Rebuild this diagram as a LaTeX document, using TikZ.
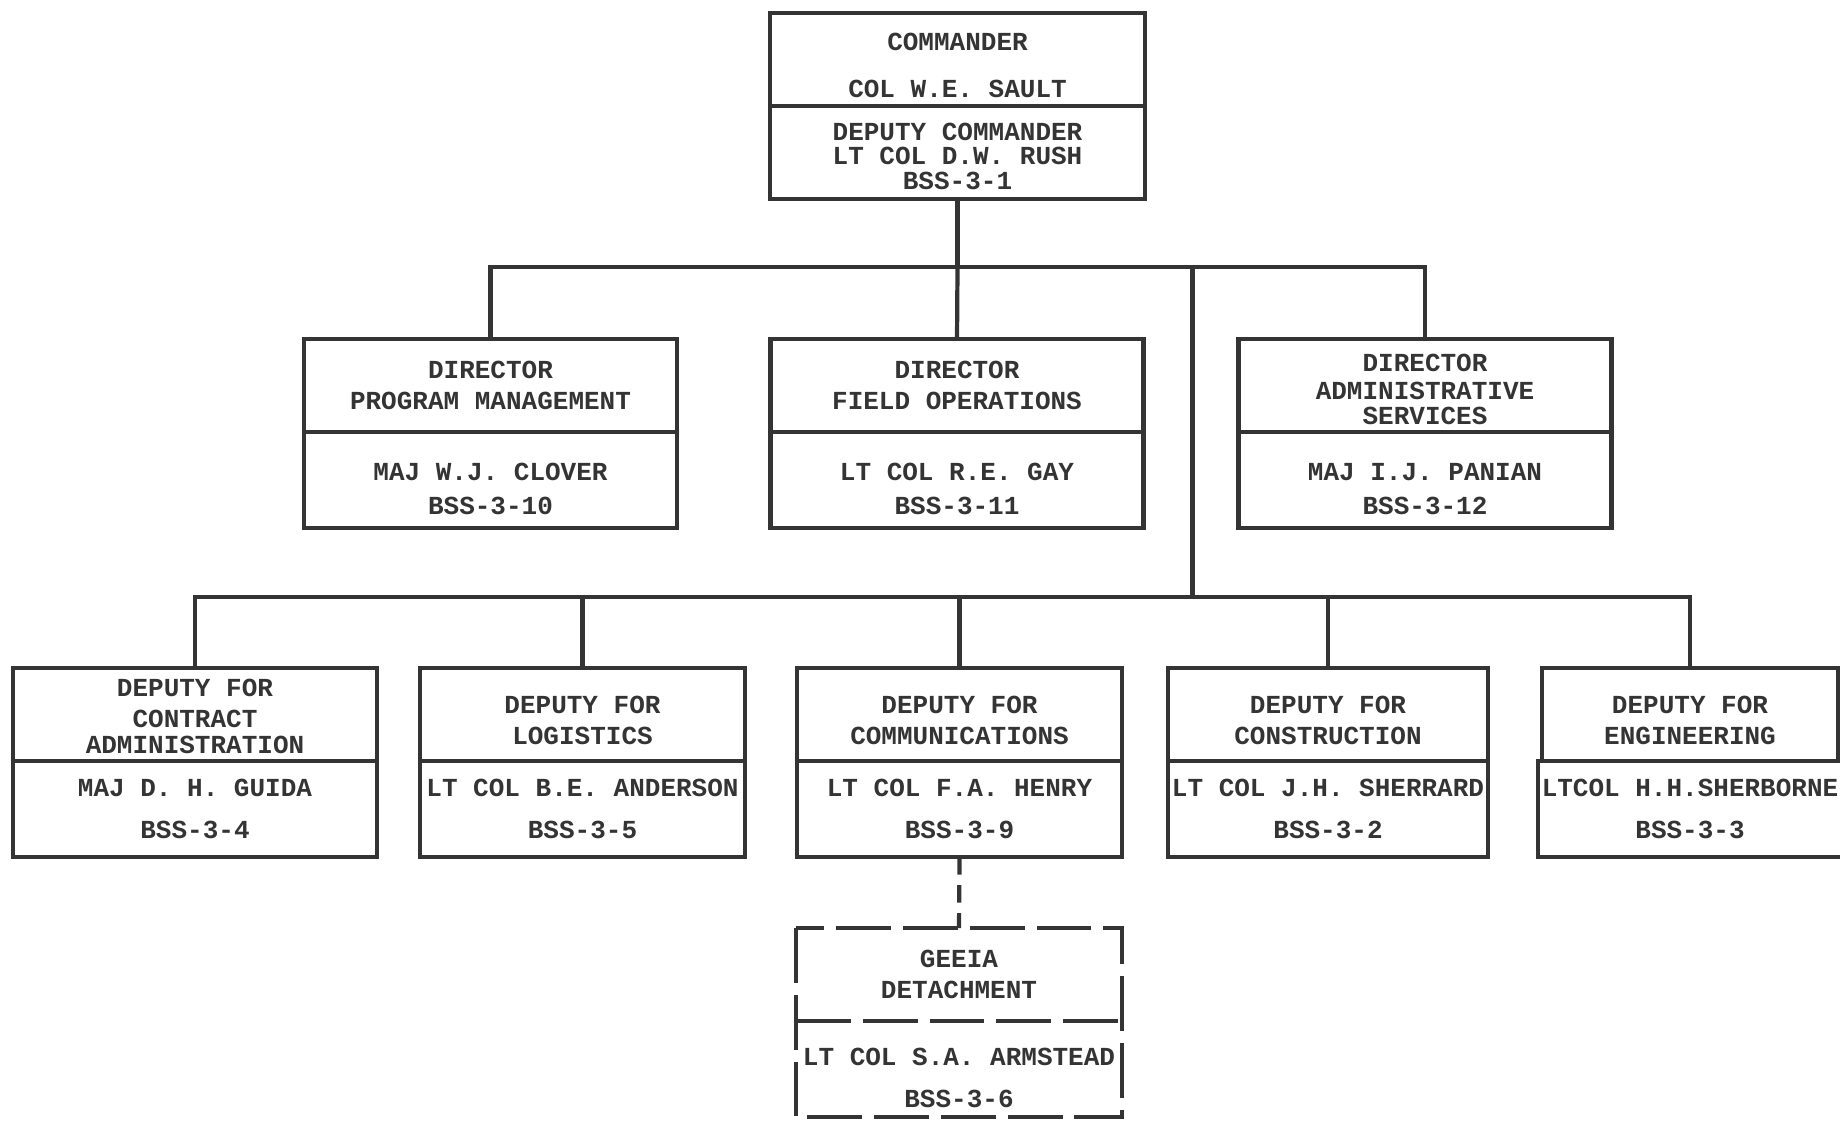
\documentclass[tikz,border=0pt]{standalone}
\usepackage{fontspec}
\setmonofont{Liberation Mono}
\usetikzlibrary{positioning,calc}
\definecolor{inkcolor}{RGB}{52,52,52}

\begin{document}
\begin{tikzpicture}[
  headbox/.style={
    draw=inkcolor,
    line width=1.2pt,
    minimum width=#1,
    minimum height=0.93cm,
    inner sep=1pt,
    outer sep=0pt,
    align=center,
    text=inkcolor,
    font=\ttfamily\bfseries\fontsize{7.4}{8.8}\selectfont
  },
  namebox/.style={
    headbox=#1,
    minimum height=0.96cm,
    font=\ttfamily\bfseries\fontsize{7.4}{12}\selectfont
  },
  lowtext/.style={text height=#1},
  wire/.style={draw=inkcolor, line width=1.2pt},
  dashwire/.style={wire, dash pattern=on 5pt off 3pt},
  dashbox/.style={wire, dash pattern=on 15.6pt off 3.4pt}
]
\useasboundingbox (0,0) rectangle (18.40,-11.21);

% Top: Commander
\node[headbox=3.75cm, lowtext=0.76cm] (cmd) at (9.575,-0.595)
{COMMANDER\\[4.5pt]
COL W.E. SAULT};
\node[headbox=3.75cm, lowtext=0.74cm, below=0pt of cmd] (cmdb)
{DEPUTY COMMANDER\\[-1.8pt]
LT COL D.W. RUSH\\[-1.8pt]
BSS-3-1};

% Directors
\node[headbox=3.73cm] (dirpm) at (4.905,-3.855)
{DIRECTOR\\
PROGRAM MANAGEMENT};
\node[namebox=3.73cm, lowtext=0.69cm, below=0pt of dirpm] (dirpmb)
{MAJ W.J. CLOVER\\[-2.4pt]
BSS-3-10};

\node[headbox=3.73cm] (dirfo) at (9.57,-3.855)
{DIRECTOR\\
FIELD OPERATIONS};
\node[namebox=3.73cm, lowtext=0.69cm, below=0pt of dirfo] (dirfob)
{LT COL R.E. GAY\\[-2.4pt]
BSS-3-11};

\node[headbox=3.73cm, lowtext=0.79cm] (diras) at (14.25,-3.855)
{DIRECTOR\\[-0.8pt]
ADMINISTRATIVE\\[-1.6pt]
SERVICES};
\node[namebox=3.73cm, lowtext=0.69cm, below=0pt of diras] (dirasb)
{MAJ I.J. PANIAN\\[-2.4pt]
BSS-3-12};

% Deputies
\node[headbox=3.64cm, lowtext=0.78cm] (depca) at (1.95,-7.145)
{DEPUTY FOR\\
CONTRACT\\[-1.4pt]
ADMINISTRATION};
\node[namebox=3.64cm, below=0pt of depca] (depcab)
{MAJ D. H. GUIDA\\
BSS-3-4};

\node[headbox=3.25cm, lowtext=0.6cm] (deplg) at (5.825,-7.145)
{DEPUTY FOR\\
LOGISTICS};
\node[namebox=3.25cm, below=0pt of deplg] (deplgb)
{LT COL B.E. ANDERSON\\
BSS-3-5};

\node[headbox=3.25cm, lowtext=0.6cm] (depcm) at (9.595,-7.145)
{DEPUTY FOR\\
COMMUNICATIONS};
\node[namebox=3.25cm, below=0pt of depcm] (depcmb)
{LT COL F.A. HENRY\\
BSS-3-9};

\node[headbox=3.20cm, lowtext=0.6cm] (depcn) at (13.28,-7.145)
{DEPUTY FOR\\
CONSTRUCTION};
\node[namebox=3.20cm, below=0pt of depcn] (depcnb)
{LT COL J.H. SHERRARD\\
BSS-3-2};

\node[headbox=2.96cm, lowtext=0.6cm] (depen) at (16.90,-7.145)
{DEPUTY FOR\\
ENGINEERING};
\node[namebox=2.96cm, below=0pt of depen] (depenb)
{LTCOL H.H.SHERBORNE\\
BSS-3-3};

% Detachment (dashed)
\node[headbox=3.26cm, draw=none] (geeia) at (9.59,-9.745)
{GEEIA\\
DETACHMENT};
\node[namebox=3.26cm, draw=none, lowtext=0.77cm, below=0pt of geeia] (geeiab)
{LT COL S.A. ARMSTEAD\\
BSS-3-6};
\draw[dashbox] (geeia.north west) rectangle (geeiab.south east);
\draw[dashbox] (geeia.south west) -- (geeia.south east);

% Connectors
\coordinate (bus1) at ($(cmdb.south)+(0,-0.68)$);
\coordinate (bus2) at ($(bus1)+(2.35,0)$);
\coordinate (bus3) at ($(bus2)+(0,-3.30)$);

\draw[wire] (cmdb.south) -- (bus1);
\draw[wire] (dirpm.north) |- (bus1) -| (diras.north);
\draw[wire] (bus1) -- (dirfo.north);
\draw[wire] (bus2) -- (bus3);
\draw[wire] (depca.north) |- (bus3) -| (depen.north);
\foreach \d in {deplg,depcm,depcn}
  \draw[wire] (\d.north) -- (\d.north |- bus3);
\draw[dashwire] (depcmb.south) -- (geeia.north);

\end{tikzpicture}
\end{document}
